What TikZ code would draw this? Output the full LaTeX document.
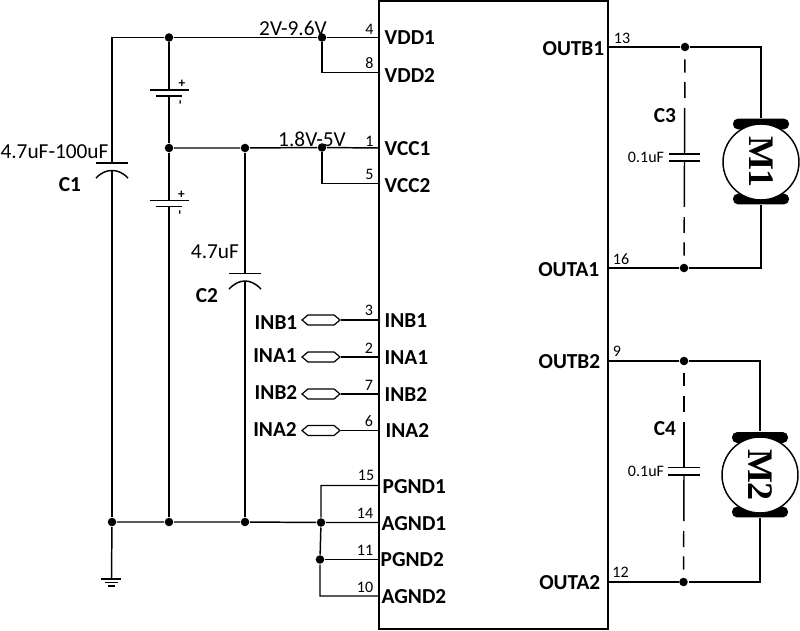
\documentclass[tikz,border=0pt]{standalone}
\usepackage{fontspec}
\setmainfont{Carlito}
\newfontfamily\motorfont{Liberation Serif}
\usetikzlibrary{shapes.symbols}

\tikzset{every picture/.style={line width=1.1pt}}
\tikzset{
  dot/.style={circle,fill=black,draw=none,inner sep=0pt,minimum size=6.4pt},
  pinname/.style={font=\bfseries\fontsize{16}{16}\selectfont,inner sep=0pt,yshift=-0.75pt},
  pinnum/.style={font=\fontsize{12}{12}\selectfont,inner sep=0pt},
  vlabel/.style={font=\fontsize{16}{16}\selectfont,inner sep=0pt},
  partname/.style={font=\bfseries\fontsize{16}{16}\selectfont,inner sep=0pt},
  smallval/.style={font=\fontsize{12}{12}\selectfont,inner sep=0pt},
  port/.style={signal,signal to=west and east,signal pointer angle=80,draw,line width=0.9pt,
    fill=white,inner sep=0pt,minimum width=28.5pt,minimum height=7.5pt},
  brush/.style={rectangle,rounded corners=3.7pt,fill=black,draw=none,inner sep=0pt,
    minimum width=42pt,minimum height=8pt},
  motor/.style={circle,draw,fill=white,inner sep=0pt,minimum size=57pt,rotate=-90,
    font=\motorfont\bfseries\fontsize{27}{27}\selectfont},
  dashwire/.style={dash pattern=on 34.5pt off 7.5pt on 12pt off 7pt on 10pt off 7pt on 40pt},
}

\begin{document}
\begin{tikzpicture}[x=0.75pt,y=0.75pt,yscale=-1,xscale=1]
        \useasboundingbox (0,0) rectangle (800,631);

        %Chip outline
        \node (chip) at (493.5,315) [draw,inner sep=0pt,minimum width=171.75pt,minimum height=471pt] {};

        %Pin ends on the chip
        \coordinate (pin4) at (379,37.5);
        \coordinate (pin8) at (379,72.5);
        \coordinate (pin1) at (379,148);
        \coordinate (pin5) at (379,183.5);
        \coordinate (pin3) at (379,320);
        \coordinate (pin2) at (379,357);
        \coordinate (pin7) at (379,394);
        \coordinate (pin6) at (379,430.5);
        \coordinate (pin15) at (379,485.5);
        \coordinate (pin14) at (379,522.5);
        \coordinate (pin11) at (379,559.5);
        \coordinate (pin10) at (379,596);
        \coordinate (pin13) at (608,47);
        \coordinate (pin16) at (608,268);
        \coordinate (pin9) at (608,361);
        \coordinate (pin12) at (608,582);

        %Junctions
        \node (dotvbata) at (169,37.5) [dot] {};
        \node (dotvdd) at (322,37.5) [dot] {};
        \node (dotmid) at (169,148) [dot] {};
        \node (dotctwo) at (245,148) [dot] {};
        \node (dotvcc) at (322,147.5) [dot] {};
        \node (dotcone) at (112,522) [dot] {};
        \node (dotbat) at (169,522) [dot] {};
        \node (dotcgnd) at (245,522) [dot] {};
        \node (dotagnd) at (321,522.5) [dot] {};
        \node (dotpgnd) at (320,559.5) [dot] {};
        \node (dotoutba) at (685,47) [dot] {};
        \node (dotoutaa) at (684,268) [dot] {};
        \node (dotoutbb) at (684,361) [dot] {};
        \node (dotoutab) at (683.5,582) [dot] {};

        %Corners
        \coordinate (cornerc) at (112,37.5);
        \coordinate (cornervdd) at (322,72.5);
        \coordinate (cornervcc) at (322,183.5);
        \coordinate (cornerpgnd) at (321,485.5);
        \coordinate (corneragnd) at (320,596);
        \coordinate (cornerma) at (761,47);
        \coordinate (cornermb) at (761,268);
        \coordinate (cornermc) at (760,361);
        \coordinate (cornermd) at (760,582);

        %Supply wires
        \draw (cornerc) -- (dotvbata) -- (dotvdd) -- (pin4);
        \draw (dotvdd) -- (cornervdd) -- (pin8);
        \draw (dotmid) -- (dotctwo) -- (dotvcc) -- (pin1);
        \draw (dotvcc) -- (cornervcc) -- (pin5);
        %Ground wires
        \draw (dotcone) -- (dotbat) -- (dotcgnd) -- (dotagnd) -- (pin14);
        \draw (pin15) -- (cornerpgnd) -- (dotagnd) -- (dotpgnd) -- (corneragnd) -- (pin10);
        \draw (dotpgnd) -- (pin11);

        %Capacitor C1
        \coordinate (conetop) at (112,163);
        \coordinate (conebot) at (112,170.5);
        \draw (cornerc) -- (conetop);
        \draw (conebot) -- (dotcone);
        \draw (96,163) -- (128,163);
        \draw (96,178) .. controls (102,172) and (107,170.5) .. (conebot) .. controls (117,170.5) and (122,172) .. (128,178);
        %Capacitor C2
        \coordinate (ctwotop) at (245,273.5);
        \coordinate (ctwobot) at (245,281);
        \draw (dotctwo) -- (ctwotop);
        \draw (ctwobot) -- (dotcgnd);
        \draw (229,273.5) -- (261,273.5);
        \draw (229,289) .. controls (235,283) and (240,281) .. (ctwobot) .. controls (250,281) and (255,283) .. (261,289);

        %Battery one
        \coordinate (batatop) at (169,90);
        \coordinate (batabot) at (169,96);
        \draw (dotvbata) -- (batatop);
        \draw (batabot) -- (dotmid);
        \draw (150,90) -- (189,90);
        \draw (156,96) -- (182,96);
        \node (bataplus) at (182,84) [font=\bfseries\fontsize{10}{10}\selectfont,inner sep=0pt] {+};
        \node (bataminus) at (182,102) [font=\bfseries\fontsize{10}{10}\selectfont,inner sep=0pt,rotate=90] {-};
        %Battery two
        \coordinate (batbtop) at (169,200.5);
        \coordinate (batbbot) at (169,206.5);
        \draw (dotmid) -- (batbtop);
        \draw (batbbot) -- (dotbat);
        \draw (149.5,200.5) -- (188.5,200.5);
        \draw (155.5,206.5) -- (181.5,206.5);
        \node (batbplus) at (181.5,195) [font=\bfseries\fontsize{10}{10}\selectfont,inner sep=0pt] {+};
        \node (batbminus) at (181.5,212.5) [font=\bfseries\fontsize{10}{10}\selectfont,inner sep=0pt,rotate=90] {-};

        %Ground symbol
        \coordinate (gnd) at (111.5,579);
        \draw (dotcone) -- (gnd);
        \draw [line width=0.8pt] (101,579) -- (121,579);
        \draw [line width=0.8pt] (105,582.5) -- (118,582.5);
        \draw [line width=0.8pt] (108,586) -- (115,586);

        %Input ports
        \node (portinba) at (321,320) [port] {};
        \node (portinaa) at (321,357) [port] {};
        \node (portinbb) at (321,394) [port] {};
        \node (portinab) at (321,430.5) [port] {};
        \draw (portinba.east) -- (pin3);
        \draw (portinaa.east) -- (pin2);
        \draw (portinbb.east) -- (pin7);
        \draw (portinab.east) -- (pin6);

        %Motor M1
        \node (brushaa) at (761,124) [brush] {};
        \node (brushab) at (761,199) [brush] {};
        \node (motorone) at (761,162) [motor] {M1};
        \draw (pin13) -- (dotoutba) -- (cornerma) -- (brushaa);
        \draw (pin16) -- (dotoutaa) -- (cornermb) -- (brushab);
        %Capacitor C3
        \coordinate (cthreetop) at (684.5,154);
        \coordinate (cthreebot) at (684.5,161);
        \draw [dashwire] (cthreetop) -- (dotoutba);
        \draw [dashwire] (cthreebot) -- (dotoutaa);
        \draw (669,154) -- (700,154);
        \draw (669,161) -- (700,161);

        %Motor M2
        \node (brushba) at (760,437.5) [brush] {};
        \node (brushbb) at (760,512) [brush] {};
        \node (motortwo) at (760,475) [motor] {M2};
        \draw (pin9) -- (dotoutbb) -- (cornermc) -- (brushba);
        \draw (pin12) -- (dotoutab) -- (cornermd) -- (brushbb);
        %Capacitor C4
        \coordinate (cfourtop) at (684,467.5);
        \coordinate (cfourbot) at (684,475);
        \draw [dashwire] (cfourtop) -- (dotoutbb);
        \draw [dashwire] (cfourbot) -- (dotoutab);
        \draw (668,467.5) -- (699.5,467.5);
        \draw (668,475) -- (699.5,475);

        % Text Node
        \node (txtvdda) at (384,37) [pinname,anchor=west] {VDD1};
        \node (txtvddb) at (384,75) [pinname,anchor=west] {VDD2};
        \node (txtvcca) at (384,148) [pinname,anchor=west] {VCC1};
        \node (txtvccb) at (384,185) [pinname,anchor=west] {VCC2};
        \node (txtinba) at (384,320) [pinname,anchor=west] {INB1};
        \node (txtinaa) at (384,357) [pinname,anchor=west] {INA1};
        \node (txtinbb) at (384,394) [pinname,anchor=west] {INB2};
        \node (txtinab) at (385,430) [pinname,anchor=west] {INA2};
        \node (txtpgnda) at (382,486) [pinname,anchor=west] {PGND1};
        \node (txtagnda) at (381,523) [pinname,anchor=west] {AGND1};
        \node (txtpgndb) at (380,559) [pinname,anchor=west] {PGND2};
        \node (txtagndb) at (381,596) [pinname,anchor=west] {AGND2};
        \node (txtoutba) at (605,48) [pinname,anchor=east] {OUTB1};
        \node (txtoutaa) at (600,269) [pinname,anchor=east] {OUTA1};
        \node (txtoutbb) at (601,361) [pinname,anchor=east] {OUTB2};
        \node (txtoutab) at (601,582) [pinname,anchor=east] {OUTA2};
        % Text Node
        \node (lblinba) at (276,322) [pinname] {INB1};
        \node (lblinaa) at (275,355) [pinname] {INA1};
        \node (lblinbb) at (276,392) [pinname] {INB2};
        \node (lblinab) at (275,429) [pinname] {INA2};
        % Text Node
        \node (numa) at (369.5,29) [pinnum] {4};
        \node (numb) at (369.5,63.5) [pinnum] {8};
        \node (numc) at (369.5,141) [pinnum] {1};
        \node (numd) at (369.5,174.5) [pinnum] {5};
        \node (nume) at (369,310.5) [pinnum] {3};
        \node (numf) at (369,348) [pinnum] {2};
        \node (numg) at (369,385) [pinnum] {7};
        \node (numh) at (369,421.5) [pinnum] {6};
        \node (numi) at (366,475) [pinnum] {15};
        \node (numj) at (365,513.5) [pinnum] {14};
        \node (numk) at (365,550) [pinnum] {11};
        \node (numl) at (365,587.5) [pinnum] {10};
        \node (numm) at (622,38) [pinnum] {13};
        \node (numn) at (621,259) [pinnum] {16};
        \node (numo) at (617,351) [pinnum] {9};
        \node (nump) at (620.5,572) [pinnum] {12};
        % Text Node
        \node (volta) at (293,28.5) [vlabel] {2V-9.6V};
        \node (voltb) at (312,139) [vlabel] {1.8V-5V};
        \node (valcone) at (54.5,152) [vlabel] {4.7uF-100uF};
        \node (valctwo) at (215,251.5) [vlabel] {4.7uF};
        \node (namecone) at (70,185) [partname] {C1};
        \node (namectwo) at (207,295.5) [partname] {C2};
        \node (namecthree) at (665,116) [partname] {C3};
        \node (namecfour) at (665,428.5) [partname] {C4};
        \node (valcthree) at (646,157.5) [smallval] {0.1uF};
        \node (valcfour) at (646,471) [smallval] {0.1uF};
\end{tikzpicture}
\end{document}
